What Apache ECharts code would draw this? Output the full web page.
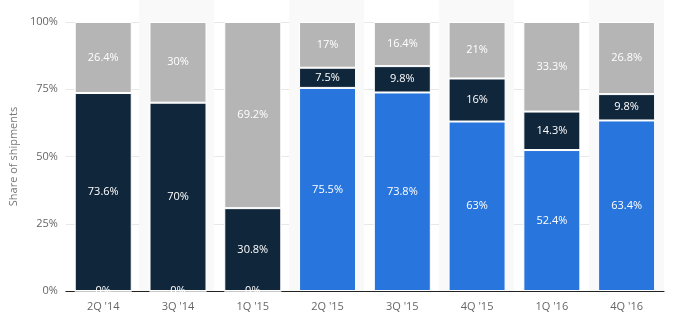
<!DOCTYPE html>
<html>
<head>
<meta charset="utf-8">
<script src="https://cdn.jsdelivr.net/npm/echarts@6/dist/echarts.min.js"></script>
<style>html,body{margin:0;padding:0;background:#fff}#c{width:673px;height:326px}</style>
</head>
<body>
<div id="c"></div>
<script>
var categories = ["2Q '14", "3Q '14", "1Q '15", "2Q '15", "3Q '15", "4Q '15", "1Q '16", "4Q '16"];
var blueValues = [0, 0, 0, 75.5, 73.8, 63, 52.4, 63.4];
var navyValues = [73.6, 70, 30.8, 7.5, 9.8, 16, 14.3, 9.8];
var grayValues = [26.4, 30, 69.2, 17, 16.4, 21, 33.3, 26.8];
var yTicks = [0, 25, 50, 75, 100];

var font = "'Open Sans', 'Noto Sans', sans-serif";
var chart = echarts.init(document.getElementById('c'), null, {renderer: 'canvas'});
function lbl() {
  return {
    show: true, position: 'inside', color: '#fff', fontSize: 11, fontFamily: font,
    formatter: function (p) { return p.value + '%'; }
  };
}
chart.setOption({
  animation: false,
  grid: [
    {left: 64, right: 9, top: 0, bottom: 35},
    {left: 64, right: 9, top: 22, bottom: 35}
  ],
  xAxis: [
    {gridIndex: 0, type: 'category', data: categories, axisLine: {show: false}, axisTick: {show: false},
     axisLabel: {show: false}, splitLine: {show: false},
     splitArea: {show: true, areaStyle: {color: ['rgba(255,255,255,0)', '#f9f9f9']}}},
    {gridIndex: 1, type: 'category', data: categories,
     axisLine: {show: true, lineStyle: {color: '#222', width: 1}}, axisTick: {show: false},
     axisLabel: {color: '#666', fontSize: 11, fontFamily: font, margin: 10}}
  ],
  yAxis: [
    {gridIndex: 0, type: 'value', show: false, min: 0, max: 100},
    {gridIndex: 1, type: 'value', min: 0, max: 100, interval: 25,
     name: 'Share of shipments', nameLocation: 'middle', nameGap: 42, nameRotate: 90,
     nameTextStyle: {color: '#777', fontSize: 11, fontFamily: font},
     axisLine: {show: false}, axisTick: {show: false},
     axisLabel: {color: '#666', fontSize: 11, fontFamily: font, margin: 8,
       formatter: function (v) { return yTicks.indexOf(v) >= 0 ? v + '%' : ''; }},
     splitLine: {show: true, lineStyle: {color: '#e8e8e8', width: 1}}}
  ],
  series: [
    {type: 'bar', xAxisIndex: 1, yAxisIndex: 1, stack: 's', data: blueValues, barWidth: 57,
     itemStyle: {color: '#2876dd', borderColor: '#fff', borderWidth: 1}, label: lbl(), z: 2},
    {type: 'bar', xAxisIndex: 1, yAxisIndex: 1, stack: 's', data: navyValues, barWidth: 57,
     itemStyle: {color: '#10263b', borderColor: '#fff', borderWidth: 1}, label: lbl()},
    {type: 'bar', xAxisIndex: 1, yAxisIndex: 1, stack: 's', data: grayValues, barWidth: 57,
     itemStyle: {color: '#b5b5b5', borderColor: '#fff', borderWidth: 1}, label: lbl()}
  ]
});
</script>
</body>
</html>
